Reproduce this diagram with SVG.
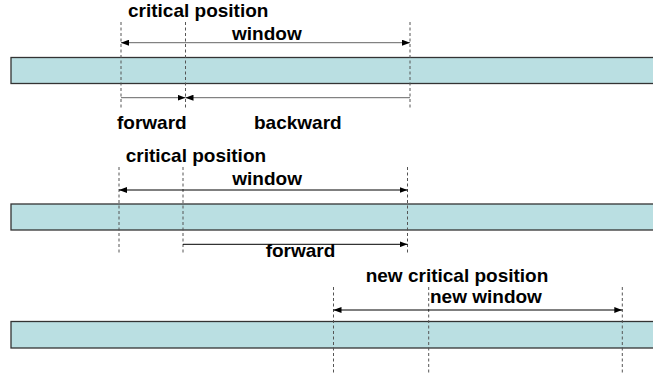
<svg xmlns="http://www.w3.org/2000/svg" width="653" height="383" viewBox="0 0 653 383">
  <style>
    .bar { fill: #badfe2; stroke: #333; stroke-width: 1.3; }
    .guide { stroke: #555; stroke-width: 1; stroke-dasharray: 3 2.5; fill: none; }
    .dim { stroke: #000; stroke-width: 1; fill: none; }
    .dim.soft { stroke: #666; }
    .lbl { font-family: "Liberation Sans", Arial, sans-serif; font-weight: bold; font-size: 19px; fill: #000; }
  </style>
  <defs>
    <marker id="head" viewBox="0 0 8 6" refX="8" refY="3" markerWidth="8" markerHeight="6" markerUnits="userSpaceOnUse" orient="auto-start-reverse">
      <path d="M0,0 L8,3 L0,6 z" fill="#000"/>
    </marker>
  </defs>

  <!-- row 1: window and forward/backward split -->
  <g id="row1">
    <rect class="bar" x="11" y="57.5" width="650" height="26"/>
    <g id="row1-guides">
      <line class="guide" x1="121" y1="22" x2="121" y2="108"/>
      <line class="guide" x1="185.5" y1="22" x2="185.5" y2="108"/>
      <line class="guide" x1="410" y1="22" x2="410" y2="108"/>
    </g>
    <text class="lbl" x="128" y="16.7">critical position</text>
    <text class="lbl" x="232" y="39.5">window</text>
    <text class="lbl" x="117" y="129.3">forward</text>
    <text class="lbl" x="254" y="129.3">backward</text>
  </g>

  <!-- row 2: forward move -->
  <g id="row2">
    <rect class="bar" x="11" y="204" width="650" height="26"/>
    <g id="row2-guides">
      <line class="guide" x1="119" y1="167" x2="119" y2="255"/>
      <line class="guide" x1="183" y1="167" x2="183" y2="255"/>
      <line class="guide" x1="407.5" y1="167" x2="407.5" y2="255"/>
    </g>
    <text class="lbl" x="125.7" y="162.3">critical position</text>
    <text class="lbl" x="232.3" y="185">window</text>
    <text class="lbl" x="265.7" y="257.3">forward</text>
  </g>

  <!-- row 3: shifted window -->
  <g id="row3">
    <rect class="bar" x="11" y="321.5" width="650" height="26.5"/>
    <g id="row3-guides">
      <line class="guide" x1="333.5" y1="287" x2="333.5" y2="375"/>
      <line class="guide" x1="428.7" y1="287" x2="428.7" y2="375"/>
      <line class="guide" x1="622.3" y1="287" x2="622.3" y2="375"/>
    </g>
    <text class="lbl" x="365.7" y="281.7">new critical position</text>
    <text class="lbl" x="430" y="303.3">new window</text>
  </g>

  <!-- dimension arrows -->
  <g id="connectors">
    <line class="dim soft" x1="121" y1="42.7" x2="410" y2="42.7" marker-start="url(#head)" marker-end="url(#head)"/>
    <line class="dim soft" x1="121" y1="97.7" x2="185.5" y2="97.7" marker-end="url(#head)"/>
    <line class="dim soft" x1="410" y1="97.7" x2="185.5" y2="97.7" marker-end="url(#head)"/>
    <line class="dim" x1="119" y1="190" x2="407.5" y2="190" marker-start="url(#head)" marker-end="url(#head)"/>
    <line class="dim" x1="183" y1="244.3" x2="407.5" y2="244.3" marker-end="url(#head)"/>
    <line class="dim" x1="333.5" y1="310" x2="622.3" y2="310" marker-start="url(#head)" marker-end="url(#head)"/>
  </g>
</svg>
